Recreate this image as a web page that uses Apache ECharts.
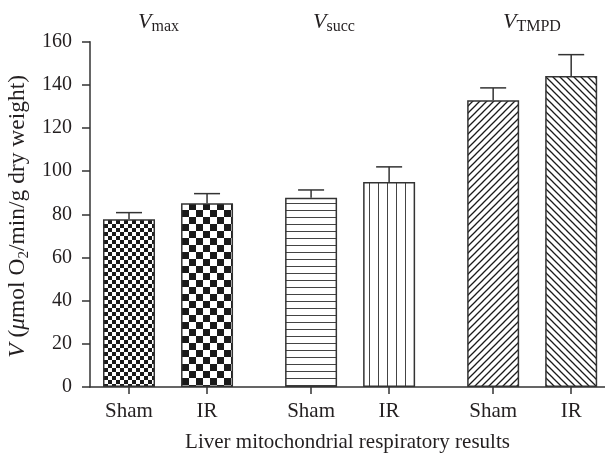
<!DOCTYPE html>
<html>
<head>
<meta charset="utf-8">
<script src="https://cdn.jsdelivr.net/npm/echarts@6/dist/echarts.min.js"></script>
<style>
html,body{margin:0;padding:0;background:#fff;}
#chart{width:605px;height:453px;}
</style>
</head>
<body>
<div id="chart"></div>
<script>
// ---- data ----
const groups = ['max', 'succ', 'TMPD'];          // subscripts of V
const conditions = ['Sham', 'IR'];
const shamValues = [77.7, 87.7, 132.9];
const irValues = [85.1, 95.0, 144.1];
const shamErrors = [3.1, 3.6, 5.7];
const irErrors = [4.5, 7.0, 9.9];
const yTicks = [0, 20, 40, 60, 80, 100, 120, 140, 160];

// ---- layout (axis units) ----
const groupCenters = [3, 10, 17];
const offset = 1.5;
const FONT = '"Liberation Serif", "DejaVu Serif", serif';
const INK = '#231f20';

function makePattern(kind) {
  const c = document.createElement('canvas');
  let w = 8, h = 8;
  if (kind === 'checkSmall') { w = h = 8; }
  if (kind === 'checkLarge') { w = h = 14; }
  if (kind === 'hlines') { w = 4; h = 7; }
  if (kind === 'vlines') { w = 9; h = 4; }
  if (kind === 'diagR' || kind === 'diagL') { w = h = 7; }
  c.width = w; c.height = h;
  const ctx = c.getContext('2d');
  ctx.fillStyle = '#fff';
  ctx.fillRect(0, 0, w, h);
  ctx.fillStyle = '#1a1a1a';
  ctx.strokeStyle = '#1a1a1a';
  if (kind === 'checkSmall') {
    ctx.fillRect(0, 0, 4, 4); ctx.fillRect(4, 4, 4, 4);
  } else if (kind === 'checkLarge') {
    ctx.fillRect(0, 0, 7, 7); ctx.fillRect(7, 7, 7, 7);
  } else if (kind === 'hlines') {
    ctx.fillStyle = '#444';
    ctx.fillRect(0, 0, w, 1);
  } else if (kind === 'vlines') {
    ctx.fillStyle = '#444';
    ctx.fillRect(0, 0, 1, h);
  } else if (kind === 'diagR') {
    ctx.lineWidth = 1.3;
    ctx.beginPath();
    ctx.moveTo(-1, w + 1); ctx.lineTo(w + 1, -1);
    ctx.moveTo(-1, 1); ctx.lineTo(1, -1);
    ctx.moveTo(w - 1, w + 1); ctx.lineTo(w + 1, w - 1);
    ctx.stroke();
  } else if (kind === 'diagL') {
    ctx.lineWidth = 1.3;
    ctx.beginPath();
    ctx.moveTo(-1, -1); ctx.lineTo(w + 1, w + 1);
    ctx.moveTo(w - 1, -1); ctx.lineTo(w + 1, 1);
    ctx.moveTo(-1, w - 1); ctx.lineTo(1, w + 1);
    ctx.stroke();
  }
  return { image: c, repeat: 'repeat' };
}

const shamPatterns = ['checkSmall', 'hlines', 'diagR'];
const irPatterns = ['checkLarge', 'vlines', 'diagL'];

const barData = [];
const errData = [];
const tickPos = [];
const tickLabel = {};
groups.forEach((g, i) => {
  const xs = groupCenters[i] - offset, xi = groupCenters[i] + offset;
  barData.push({ value: [xs, shamValues[i]], itemStyle: { color: makePattern(shamPatterns[i]) } });
  barData.push({ value: [xi, irValues[i]], itemStyle: { color: makePattern(irPatterns[i]) } });
  errData.push([xs, shamValues[i], shamValues[i] + shamErrors[i]]);
  errData.push([xi, irValues[i], irValues[i] + irErrors[i]]);
  tickPos.push(xs, xi);
  tickLabel[xs] = conditions[0];
  tickLabel[xi] = conditions[1];
});

const titleX = [138, 313, 503];
const graphics = groups.map((g, i) => ({
  type: 'text',
  left: titleX[i],
  top: 11,
  style: {
    text: '{v|V}{s|' + g + '}',
    fill: INK,
    rich: {
      v: { fontFamily: FONT, fontSize: 22, fontStyle: 'italic', lineHeight: 26, fill: INK },
      s: { fontFamily: FONT, fontSize: 16, lineHeight: 12, verticalAlign: 'bottom', fill: INK }
    }
  }
}));

const chart = echarts.init(document.getElementById('chart'), null, { renderer: 'canvas' });
chart.setOption({
  backgroundColor: '#fff',
  animation: false,
  graphic: graphics,
  grid: { left: 90, right: 0, top: 41.7, bottom: 66, containLabel: false, outerBoundsMode: 'none' },
  xAxis: {
    type: 'value',
    min: 0,
    max: 19.8,
    splitLine: { show: false },
    axisLine: { show: true, lineStyle: { color: '#333', width: 1.5 } },
    axisTick: { show: true, customValues: tickPos, length: 7, lineStyle: { color: '#333', width: 1.5 } },
    axisLabel: {
      customValues: tickPos,
      formatter: v => tickLabel[v] || '',
      margin: 14,
      fontFamily: FONT, fontSize: 21, color: INK
    },
    name: 'Liver mitochondrial respiratory results',
    nameLocation: 'middle',
    nameGap: 45,
    nameTextStyle: { fontFamily: FONT, fontSize: 21, color: INK }
  },
  yAxis: {
    type: 'value',
    min: yTicks[0],
    max: yTicks[yTicks.length - 1],
    interval: yTicks[1] - yTicks[0],
    splitLine: { show: false },
    axisLine: { show: true, lineStyle: { color: '#333', width: 1.5 } },
    axisTick: { show: true, length: 8, lineStyle: { color: '#333', width: 1.5 } },
    axisLabel: { margin: 18, fontFamily: FONT, fontSize: 20, color: INK },
    name: '{i|V} ({i|μ}mol O{sub|2}/min/g dry weight)',
    nameLocation: 'middle',
    nameRotate: 90,
    nameGap: 50,
    nameTextStyle: {
      fontFamily: FONT, fontSize: 23.5, color: INK, lineHeight: 27,
      padding: [0, 4, 0, 0],
      rich: {
        i: { fontFamily: FONT, fontSize: 23.5, fontStyle: 'italic', color: INK, lineHeight: 27 },
        sub: { fontFamily: FONT, fontSize: 15, color: INK, lineHeight: 13, verticalAlign: 'bottom' }
      }
    }
  },
  series: [
    {
      type: 'bar',
      data: barData,
      barWidth: 52,
      itemStyle: { borderColor: '#333', borderWidth: 1.5 },
      z: 2
    },
    {
      type: 'custom',
      data: errData,
      z: 3,
      renderItem: function (params, api) {
        const x = api.value(0);
        const base = api.coord([x, api.value(1)]);
        const top = api.coord([x, api.value(2)]);
        const half = 13;
        return {
          type: 'group',
          children: [
            { type: 'line', shape: { x1: base[0], y1: base[1], x2: top[0], y2: top[1] }, style: { stroke: '#333', lineWidth: 1.5 } },
            { type: 'line', shape: { x1: top[0] - half, y1: top[1], x2: top[0] + half, y2: top[1] }, style: { stroke: '#333', lineWidth: 1.5 } }
          ]
        };
      }
    }
  ]
});
</script>
</body>
</html>
